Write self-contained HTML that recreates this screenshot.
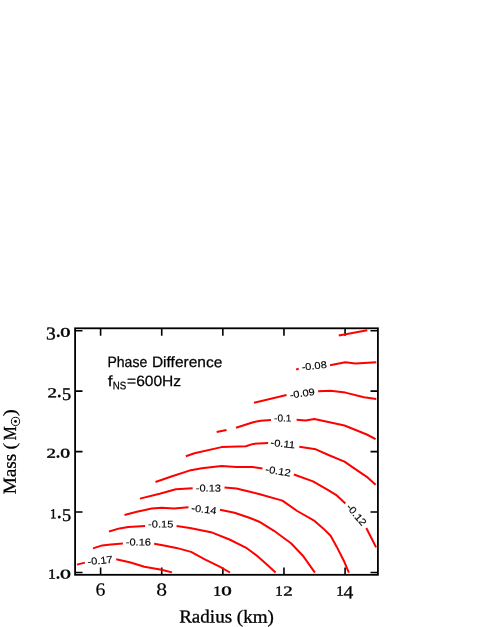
<!DOCTYPE html>
<html><head><meta charset="utf-8"><title>Phase Difference contour</title>
<style>
html,body{margin:0;padding:0;background:#fff;}
body{width:485px;height:627px;overflow:hidden;font-family:"Liberation Sans",sans-serif;}
svg{display:block;will-change:transform;}
</style></head><body>
<svg width="485" height="627" viewBox="0 0 485 627">
<rect x="0" y="0" width="485" height="627" fill="#fff"/>
<g font-family="Liberation Sans, sans-serif" fill="#000" stroke="#000" stroke-width="0.15">
<text font-size="9.9" transform="translate(100.00,560.40) rotate(-6) translate(-12.64,3.55) scale(1.1236,1)">-0.17</text>
<text font-size="9.9" transform="translate(138.40,541.90) rotate(0.03) translate(-12.64,3.55) scale(1.1203,1)">-0.16</text>
<text font-size="9.9" transform="translate(160.70,524.00) rotate(0.03) translate(-12.64,3.55) scale(1.1193,1)">-0.15</text>
<text font-size="9.9" transform="translate(204.10,509.20) rotate(7) translate(-12.64,3.55) scale(1.1129,1)">-0.14</text>
<text font-size="9.9" transform="translate(208.40,488.00) rotate(0.03) translate(-12.64,3.55) scale(1.1203,1)">-0.13</text>
<text font-size="9.9" transform="translate(278.10,471.00) rotate(9) translate(-12.64,3.55) scale(1.1236,1)">-0.12</text>
<text font-size="9.9" transform="translate(283.20,443.60) rotate(6) translate(-12.64,3.55) scale(1.1228,1)">-0.11</text>
<text font-size="9.9" transform="translate(282.75,418.00) rotate(0.03) translate(-8.70,3.55) scale(1.0226,1)">-0.1</text>
<text font-size="9.9" transform="translate(302.20,393.20) rotate(-8) translate(-12.64,3.55) scale(1.1221,1)">-0.09</text>
<text font-size="9.9" transform="translate(314.10,365.70) rotate(-6) translate(-12.64,3.55) scale(1.1201,1)">-0.08</text>
<text font-size="9.9" transform="translate(356.60,514.60) rotate(50) translate(-12.64,3.55) scale(1.1236,1)">-0.12</text>
</g>
<rect x="75.1" y="328.3" width="302.8" height="246.5" fill="none" stroke="#000" stroke-width="1.8"/>
<path d="M100.60,574.8 v-7.4 M100.60,328.3 v7.4 M161.72,574.8 v-7.4 M161.72,328.3 v7.4 M222.84,574.8 v-7.4 M222.84,328.3 v7.4 M283.96,574.8 v-7.4 M283.96,328.3 v7.4 M345.08,574.8 v-7.4 M345.08,328.3 v7.4 M75.1,572.50 h7.4 M377.9,572.50 h-7.4 M75.1,512.05 h7.4 M377.9,512.05 h-7.4 M75.1,451.60 h7.4 M377.9,451.60 h-7.4 M75.1,391.15 h7.4 M377.9,391.15 h-7.4 M75.1,330.70 h7.4 M377.9,330.70 h-7.4" fill="none" stroke="#000" stroke-width="1.6"/>
<g fill="none" stroke="#ff0000" stroke-width="2" stroke-linecap="butt" stroke-linejoin="round">
<path d="M77.0,564.6 L84.9,562.6"/>
<path d="M116.2,559.3 L130.6,562.5 L144.3,566.7 L161.6,569.7 L172.0,572.4"/>
<path d="M93.0,548.4 L102.2,545.4 L110.8,544.5 L122.9,543.6"/>
<path d="M154.2,543.8 L164.0,545.4 L176.4,547.9 L191.1,551.9 L204.8,559.3 L219.6,566.7 L230.0,572.5"/>
<path d="M109.1,531.5 L119.5,528.4 L128.2,527.1 L145.1,526.0"/>
<path d="M176.6,526.0 L189.9,527.9 L212.2,532.6 L229.5,539.5 L246.8,548.2 L256.7,555.6 L266.6,564.3 L275.6,572.5"/>
<path d="M124.5,515.0 L136.8,511.8 L151.7,508.6 L161.6,507.8 L174.0,508.6 L188.5,507.2"/>
<path d="M220.0,509.7 L234.5,512.8 L249.3,517.7 L259.2,521.7 L274.0,530.8 L291.0,543.2 L303.4,556.3 L314.9,572.6"/>
<path d="M139.9,498.6 L159.7,493.7 L175.8,489.2 L192.7,488.3"/>
<path d="M224.5,487.5 L236.4,488.5 L250.0,491.7 L259.8,494.2 L282.4,500.6 L297.2,511.0 L314.6,520.9 L323.2,528.4 L330.6,535.8 L336.8,546.9 L344.3,561.8 L348.9,572.7"/>
<path d="M155.5,482.0 L172.1,476.3 L189.4,470.6 L201.8,468.2 L221.6,465.9 L236.4,466.9 L252.4,466.9 L262.5,468.6"/>
<path d="M293.9,474.5 L313.0,481.4 L327.8,489.8 L336.8,495.4 L345.4,503.4"/>
<path d="M366.3,528.0 L371.5,538.3 L376.1,547.4"/>
<path d="M185.9,456.2 L194.4,453.3 L221.6,447.1 L245.8,446.2 L253.2,443.9 L268.1,442.9"/>
<path d="M299.3,446.8 L315.8,449.3 L329.7,455.5 L344.5,461.6 L355.7,469.4 L366.8,476.8 L375.6,484.7"/>
<path d="M216.7,432.0 L226.5,430.0"/>
<path d="M236.0,427.7 L253.2,422.2 L260.6,420.8 L271.0,420.0"/>
<path d="M296.6,419.8 L305.6,420.6 L314.4,419.0 L326.0,421.5 L344.5,425.5 L355.7,430.0 L366.8,434.5 L375.6,439.1"/>
<path d="M254.0,402.8 L286.5,395.0"/>
<path d="M318.1,391.2 L330.5,390.8 L345.4,392.6 L364.0,397.3 L376.3,399.1"/>
<path d="M296.2,369.5 L298.7,368.8"/>
<path d="M330.1,365.3 L345.2,362.3 L355.6,363.6 L376.3,362.2"/>
<path d="M338.8,335.6 L367.3,330.3"/>
</g>
<g font-family="Liberation Serif, serif" font-size="18.0" fill="#000" stroke="#000" stroke-width="0.42" vector-effect="non-scaling-stroke" style="vector-effect:non-scaling-stroke">
<text vector-effect="non-scaling-stroke" stroke-width="0.15" transform="translate(95.57,595.46) rotate(0.03) scale(1.099,1.023)">6</text>
<text vector-effect="non-scaling-stroke" stroke-width="0.15" transform="translate(156.30,595.46) rotate(0.03) scale(1.199,1.018)">8</text>
<text vector-effect="non-scaling-stroke" stroke-width="0.42" transform="translate(213.26,595.39) rotate(0.03) scale(0.881,0.764)">1</text><text vector-effect="non-scaling-stroke" stroke-width="0.6" transform="translate(221.35,595.29) rotate(0.03) scale(1.166,0.742)">0</text>
<text vector-effect="non-scaling-stroke" stroke-width="0.42" transform="translate(275.24,595.39) rotate(0.03) scale(0.833,0.764)">1</text><text vector-effect="non-scaling-stroke" stroke-width="0.42" transform="translate(283.23,595.39) rotate(0.03) scale(1.050,0.762)">2</text>
<text vector-effect="non-scaling-stroke" stroke-width="0.42" transform="translate(336.14,595.39) rotate(0.03) scale(0.833,0.764)">1</text><text vector-effect="non-scaling-stroke" stroke-width="0.3" transform="translate(343.61,598.35) rotate(0.03) scale(1.090,1.022)">4</text>
<text vector-effect="non-scaling-stroke" stroke-width="0.42" transform="translate(47.96,578.59) rotate(0.03) scale(0.881,0.764)">1</text><text vector-effect="non-scaling-stroke" stroke-width="0.2" transform="translate(55.35,578.44) rotate(0.03) scale(1.224,1.224)">.</text><text vector-effect="non-scaling-stroke" stroke-width="0.6" transform="translate(60.12,578.49) rotate(0.03) scale(1.219,0.742)">0</text>
<text vector-effect="non-scaling-stroke" stroke-width="0.42" transform="translate(50.02,518.14) rotate(0.03) scale(0.723,0.764)">1</text><text vector-effect="non-scaling-stroke" stroke-width="0.2" transform="translate(56.55,517.99) rotate(0.03) scale(1.224,1.224)">.</text><text vector-effect="non-scaling-stroke" stroke-width="0.35" transform="translate(62.07,520.89) rotate(0.03) scale(1.013,1.007)">5</text>
<text vector-effect="non-scaling-stroke" stroke-width="0.42" transform="translate(46.43,457.69) rotate(0.03) scale(1.050,0.762)">2</text><text vector-effect="non-scaling-stroke" stroke-width="0.2" transform="translate(55.30,457.54) rotate(0.03) scale(1.224,1.224)">.</text><text vector-effect="non-scaling-stroke" stroke-width="0.6" transform="translate(60.21,457.59) rotate(0.03) scale(1.088,0.742)">0</text>
<text vector-effect="non-scaling-stroke" stroke-width="0.42" transform="translate(47.53,397.24) rotate(0.03) scale(1.050,0.762)">2</text><text vector-effect="non-scaling-stroke" stroke-width="0.2" transform="translate(56.55,397.09) rotate(0.03) scale(1.224,1.224)">.</text><text vector-effect="non-scaling-stroke" stroke-width="0.35" transform="translate(62.07,399.99) rotate(0.03) scale(1.013,1.007)">5</text>
<text vector-effect="non-scaling-stroke" stroke-width="0.35" transform="translate(46.09,339.54) rotate(0.03) scale(1.083,1.013)">3</text><text vector-effect="non-scaling-stroke" stroke-width="0.2" transform="translate(55.40,336.64) rotate(0.03) scale(1.224,1.224)">.</text><text vector-effect="non-scaling-stroke" stroke-width="0.6" transform="translate(60.28,336.69) rotate(0.03) scale(1.127,0.742)">0</text>
</g>
<g font-family="Liberation Serif, serif" fill="#000" stroke="#000" stroke-width="0.3">
<text font-size="18.4" transform="translate(179.15,622.60) rotate(0.03) scale(1.0362,1)" >Radius (km)</text>
<g transform="translate(15.8,494.0) rotate(-90)">
<text font-size="18.4" transform="translate(-0.36,0.00) rotate(0.03) scale(1.0490,1)" >Mass</text>
<text font-size="18.4" transform="translate(44.24,0.00) rotate(0.03) scale(1.1850,1)" stroke-width="0.1">(</text>
<text font-size="18.4" transform="translate(53.65,0.00) rotate(0.03) scale(0.8567,1)" >M</text>
<circle cx="72.6" cy="-0.3" r="4.1" fill="none" stroke-width="0.95"/><circle cx="72.6" cy="-0.3" r="1.35" stroke="none"/>
<text font-size="18.4" transform="translate(77.47,0.00) rotate(0.03) scale(1.2273,1)" stroke-width="0.1">)</text>
</g>
</g>
<g font-family="Liberation Sans, sans-serif" fill="#000" stroke="#000" stroke-width="0.25">
<text font-size="15.0" transform="translate(107.45,367.10) rotate(0.03) scale(0.9376,1)" >Phase</text>
<text font-size="15.0" transform="translate(151.93,367.10) rotate(0.03) scale(1.0336,1)" >Difference</text>
<text font-size="14.8" transform="translate(107.65,386.00) rotate(0.03) scale(1.1723,1)" >f</text>
<text font-size="10.9" transform="translate(112.81,389.30) rotate(0.03) scale(0.8874,1)" >NS</text>
<text font-size="14.8" transform="translate(127.04,386.00) rotate(0.03) scale(1.0527,1)" >=600Hz</text>
</g>
</svg>
</body></html>
